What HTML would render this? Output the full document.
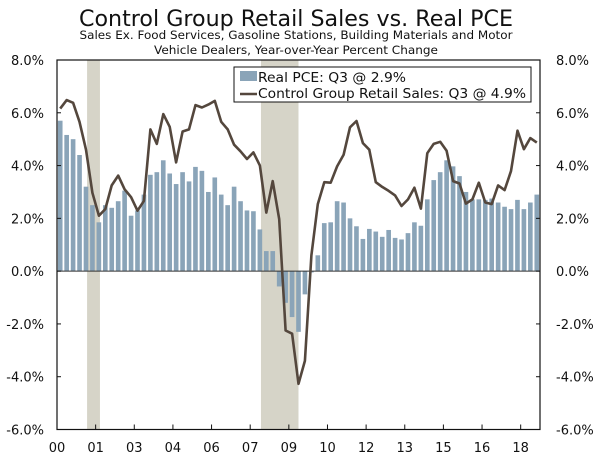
<!DOCTYPE html>
<html><head><meta charset="utf-8">
<style>
html,body{margin:0;padding:0;background:#fff;}
svg{display:block;font-family:"DejaVu Sans","Liberation Sans",sans-serif;}
</style></head>
<body>
<svg id="chart" width="600" height="459" viewBox="0 0 600 459" xmlns="http://www.w3.org/2000/svg">
<text x="296" y="26" text-anchor="middle" font-size="22" textLength="434" lengthAdjust="spacingAndGlyphs" fill="#111">Control Group Retail Sales vs. Real PCE</text>
<text x="296" y="39" text-anchor="middle" font-size="11.5" textLength="433" lengthAdjust="spacingAndGlyphs" fill="#111">Sales Ex. Food Services, Gasoline Stations, Building Materials and Motor</text>
<text x="296" y="54" text-anchor="middle" font-size="11.5" textLength="284" lengthAdjust="spacingAndGlyphs" fill="#111">Vehicle Dealers, Year-over-Year Percent Change</text>
<g id="recessions"></g>
<g id="bars"></g>
<g id="axes"></g>
<path id="line" fill="none" stroke="#54473d" stroke-width="2.6" stroke-linejoin="round"/>
<g id="legend">
  <rect x="234" y="67" width="297" height="35" fill="#fff" stroke="#111" stroke-width="1"/>
  <rect x="240" y="71" width="17" height="10" fill="#8aa4b8"/>
  <text x="258" y="82" font-size="13.5" textLength="148" lengthAdjust="spacingAndGlyphs" fill="#111">Real PCE: Q3 @ 2.9%</text>
  <line x1="240" y1="94" x2="257" y2="94" stroke="#54473d" stroke-width="2.6"/>
  <text x="258" y="98" font-size="13.5" textLength="268" lengthAdjust="spacingAndGlyphs" fill="#111">Control Group Retail Sales: Q3 @ 4.9%</text>
</g>
</svg>
<script>
const pceValues = [5.7,5.16,5.0,4.4,3.2,2.5,1.85,2.5,2.4,2.65,3.05,2.1,2.3,2.9,3.65,3.75,4.2,3.7,3.3,3.75,3.4,3.95,3.8,3.0,3.55,2.9,2.5,3.2,2.65,2.3,2.27,1.58,0.76,0.76,-0.58,-1.2,-1.74,-2.3,-0.88,-0.05,0.6,1.82,1.85,2.65,2.6,2.0,1.7,1.22,1.6,1.5,1.3,1.56,1.26,1.2,1.44,1.85,1.72,2.72,3.45,3.75,4.2,3.97,3.6,3.0,2.72,2.72,2.7,2.75,2.6,2.44,2.35,2.7,2.35,2.6,2.9];
const retailValues = [6.16,6.48,6.38,5.66,4.6,2.97,2.1,2.35,3.25,3.62,3.1,2.8,2.29,2.66,5.37,4.82,5.95,5.47,4.12,5.29,5.37,6.29,6.2,6.31,6.45,5.66,5.37,4.79,4.54,4.25,4.5,4.0,2.22,3.41,1.97,-2.25,-2.37,-4.27,-3.4,0.6,2.54,3.37,3.35,3.97,4.41,5.45,5.69,4.85,4.6,3.37,3.19,3.04,2.87,2.47,2.72,3.16,2.37,4.47,4.82,4.9,4.56,3.41,3.32,2.56,2.72,3.35,2.6,2.54,3.25,3.07,3.79,5.32,4.62,5.04,4.87];
const tickLabels = ["00","01","03","04","06","07","09","10","12","13","15","16","18"];
const tickQuarters = [0,6,12,18,24,30,36,42,48,54,60,66,72];
const yTicks = [8,6,4,2,0,-2,-4,-6];
const recessionStarts = [4.67,31.67];
const recessionEnds = [6.67,37.5];

const NS="http://www.w3.org/2000/svg";
const X0=57,X1=540,Y0=60,Y1=429.5,N=75;
const qw=(X1-X0)/N;
function xq(q){return X0+q*qw;}
function y(v){return Y1-(v+6)/14*(Y1-Y0);}
function mk(tag,attrs,parent){const e=document.createElementNS(NS,tag);for(const k in attrs)e.setAttribute(k,attrs[k]);parent.appendChild(e);return e;}

const rg=document.getElementById('recessions');
recessionStarts.forEach((s,i)=>{
  const r=mk('rect',{x:xq(s),y:Y0,width:xq(recessionEnds[i])-xq(s),height:Y1-Y0,fill:'#d6d4c8'},rg);
  
  
});
const bg=document.getElementById('bars');
pceValues.forEach((v,i)=>{
  const cx=xq(i+0.5),w=qw*0.72;
  const top=Math.min(y(v),y(0)),h=Math.abs(y(v)-y(0));
  const r=mk('rect',{x:cx-w/2,y:top,width:w,height:h,fill:'#8aa4b8'},bg);
  
  
});
const ag=document.getElementById('axes');
const z=mk('line',{x1:X0,x2:X1,y1:y(0),y2:y(0),stroke:'#333','stroke-width':1},ag);


const box=mk('rect',{x:X0,y:Y0,width:X1-X0,height:Y1-Y0,fill:'none',stroke:'#111','stroke-width':1.2},ag);


yTicks.forEach(v=>{
  const yy=y(v);
  mk('line',{x1:X0,x2:X0+4,y1:yy,y2:yy,stroke:'#111'},ag);
  mk('line',{x1:X1-4,x2:X1,y1:yy,y2:yy,stroke:'#111'},ag);
  const l=mk('text',{x:44,y:yy+5,'text-anchor':'end','font-size':13,fill:'#111'},ag);
  l.textContent=v.toFixed(1)+'%';
  
  
  const r=mk('text',{x:556,y:yy+5,'font-size':13,fill:'#111'},ag);
  r.textContent=v.toFixed(1)+'%';
  
  
});
tickQuarters.forEach((q,i)=>{
  const xx=xq(q);
  mk('line',{x1:xx,x2:xx,y1:Y1-5,y2:Y1,stroke:'#111'},ag);
  const t=mk('text',{x:xx,y:452,'text-anchor':'middle','font-size':13,fill:'#111'},ag);
  t.textContent=tickLabels[i];
  
  
});
document.getElementById('line').setAttribute('d',retailValues.map((v,i)=>(i?'L':'M')+xq(i+0.5).toFixed(1)+' '+y(v).toFixed(1)).join(' '));
</script>
</body></html>
